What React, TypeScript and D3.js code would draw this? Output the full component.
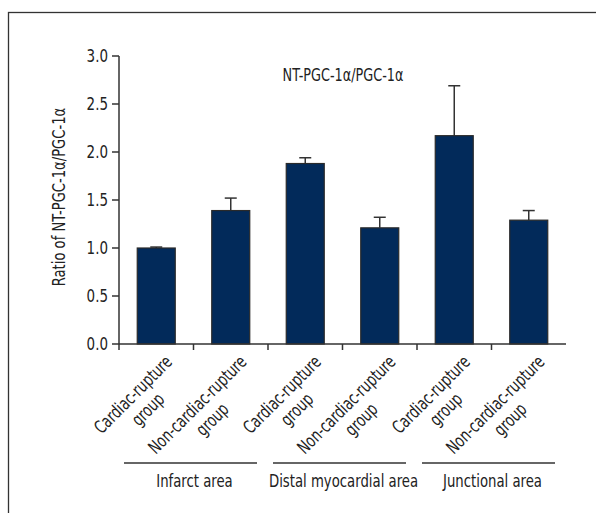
import React, { useEffect, useRef } from 'react';
import * as d3 from 'd3';

const categories = [
  'Cardiac-rupture group',
  'Non-cardiac-rupture group',
  'Cardiac-rupture group',
  'Non-cardiac-rupture group',
  'Cardiac-rupture group',
  'Non-cardiac-rupture group',
];
const labelLines = categories.map(c => {
  const k = c.lastIndexOf(' ');
  return [c.slice(0, k), c.slice(k + 1)];
});
const means = [1.0, 1.39, 1.88, 1.21, 2.17, 1.29];
const errors = [0.01, 0.13, 0.06, 0.11, 0.52, 0.1];
const areas = ['Infarct area', 'Distal myocardial area', 'Junctional area'];
const yTicks = [0, 0.5, 1.0, 1.5, 2.0, 2.5, 3.0];

const FONT = "'DejaVu Sans Condensed', 'Liberation Sans Narrow', sans-serif";
const INK = '#333';
const TXT = '#222';

// text squeezed horizontally to mimic the condensed face of the original
function label(parent: any, x: number, y: number, str: string,
  opt: { size?: number; sx?: number; rot?: number; anchor?: string } = {}) {
  const { size = 16, sx = 0.82, rot = 0, anchor = 'middle' } = opt;
  const g = parent.append('g')
    .attr('transform', `translate(${x},${y}) rotate(${rot}) scale(${sx},1)`);
  return g.append('text')
    .attr('text-anchor', anchor)
    .attr('font-family', FONT)
    .attr('font-size', size)
    .attr('fill', TXT)
    .text(str);
}

export default function App() {
  const ref = useRef<SVGSVGElement>(null);

  useEffect(() => {
    const svg = d3.select(ref.current);
    svg.selectAll('*').remove();

    // frame (only top and left edges fall inside the picture)
    svg.append('rect')
      .attr('x', 8.5).attr('y', 12.5)
      .attr('width', 620).attr('height', 540)
      .attr('fill', 'none').attr('stroke', INK).attr('stroke-width', 1.3);

    const left = 119, right = 566, top = 56, bottom = 344;

    const x = d3.scaleBand<number>()
      .domain(d3.range(categories.length))
      .range([left, right])
      .padding(0);
    const y = d3.scaleLinear().domain([0, 3]).range([bottom, top]);

    const bw = 38;

    // error bars
    const eb = svg.append('g').attr('stroke', INK).attr('stroke-width', 1.5);
    means.forEach((m, i) => {
      const cx = x(i)! + x.bandwidth() / 2;
      eb.append('line')
        .attr('x1', cx).attr('x2', cx)
        .attr('y1', y(m)).attr('y2', y(m + errors[i]));
      eb.append('line')
        .attr('x1', cx - 6).attr('x2', cx + 6)
        .attr('y1', y(m + errors[i])).attr('y2', y(m + errors[i]));
    });

    // bars
    svg.append('g')
      .selectAll('rect')
      .data(means)
      .enter()
      .append('rect')
      .attr('x', (d, i) => x(i)! + x.bandwidth() / 2 - bw / 2)
      .attr('y', d => y(d))
      .attr('width', bw)
      .attr('height', d => bottom - y(d))
      .attr('fill', '#022a5a')
      .attr('stroke', '#2a2a2a')
      .attr('stroke-width', 1.2);

    // y axis
    const ya = svg.append('g');
    ya.append('line').attr('x1', left).attr('x2', left).attr('y1', top).attr('y2', bottom)
      .attr('stroke', INK).attr('stroke-width', 1.5);
    yTicks.forEach(t => {
      ya.append('line').attr('x1', left - 7).attr('x2', left).attr('y1', y(t)).attr('y2', y(t))
        .attr('stroke', INK).attr('stroke-width', 1.5);
      label(ya, left - 11, y(t) + 6, t.toFixed(1), { size: 17, sx: 0.88, anchor: 'end' });
    });

    // x axis
    const xa = svg.append('g');
    xa.append('line').attr('x1', left).attr('x2', right).attr('y1', bottom).attr('y2', bottom)
      .attr('stroke', INK).attr('stroke-width', 1.5);
    d3.range(categories.length).forEach(i => {
      const tx = x(i)!;
      xa.append('line').attr('x1', tx).attr('x2', tx).attr('y1', bottom).attr('y2', bottom + 6)
        .attr('stroke', INK).attr('stroke-width', 1.5);
    });

    // category labels, rotated -45, lines centred on each other
    const sxl = 0.8;
    labelLines.forEach((lines, i) => {
      const cx = x(i)! + x.bandwidth() / 2;
      const g = svg.append('g')
        .attr('transform', `translate(${cx + 17},${bottom + 19}) rotate(-45)`);
      const t1 = label(g, 0, 0, lines[0], { size: 18, sx: sxl, anchor: 'end' });
      const w = (t1.node() as SVGTextElement).getComputedTextLength() * sxl;
      label(g, -w / 2, 21, lines[1], { size: 18, sx: sxl });
    });

    // area brackets
    areas.forEach((a, k) => {
      const x0 = x(k * 2)! + 5;
      const x1 = x(k * 2 + 1)! + x.bandwidth() - 11;
      svg.append('line').attr('x1', x0).attr('x2', x1).attr('y1', 463).attr('y2', 463)
        .attr('stroke', INK).attr('stroke-width', 1.3);
      label(svg, (x0 + x1) / 2 + 4, 487, a, { size: 18 });
    });

    // title
    label(svg, 343, 81, 'NT-PGC-1α/PGC-1α', { size: 17, sx: 0.84 });

    // y title
    label(svg, 65, 197, 'Ratio of NT-PGC-1α/PGC-1α', { size: 17, sx: 0.86, rot: -90 });
  }, []);

  return (
    <svg ref={ref} width={596} height={513}
      style={{ position: 'absolute', left: 0, top: 0, background: '#fff' }} />
  );
}
